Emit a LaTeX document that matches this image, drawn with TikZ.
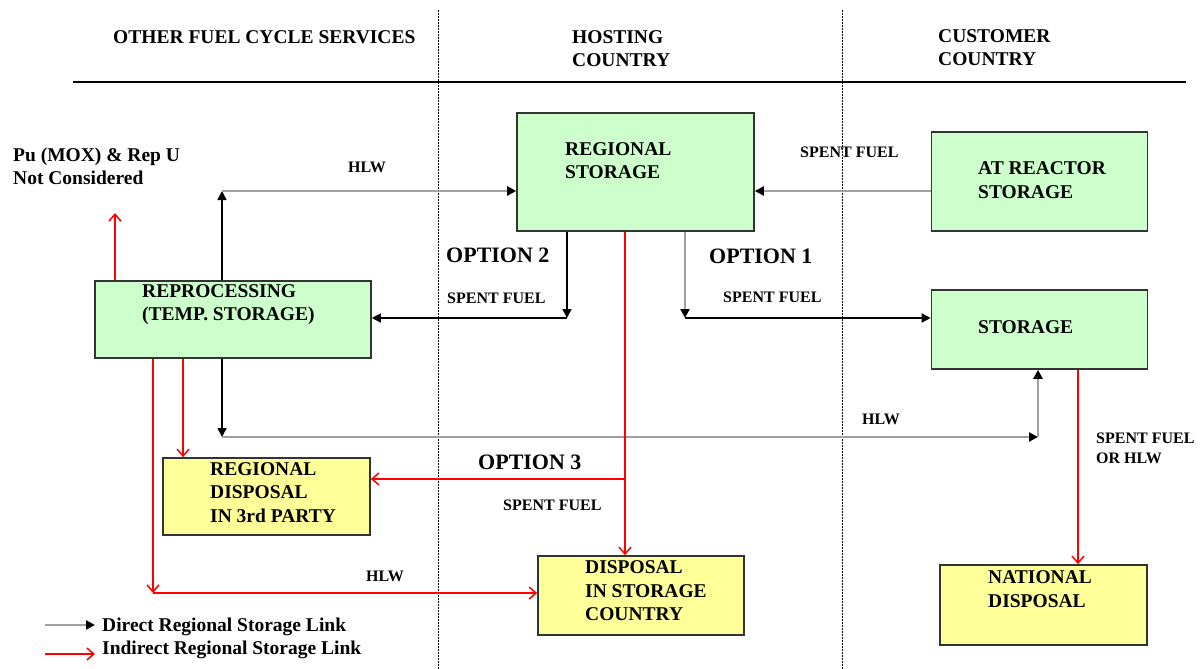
\documentclass[tikz,border=0pt]{standalone}
\usepackage{fontspec}
\setmainfont{Liberation Serif}
\usetikzlibrary{arrows.meta}
\definecolor{boxgreen}{RGB}{204,255,204}
\definecolor{boxyellow}{RGB}{255,255,153}
\definecolor{linkgrey}{RGB}{160,160,160}
\tikzset{
    greenbox/.style={
        rectangle,
        draw=black!80, % 深灰边框
        fill=boxgreen,
        line width=1.6pt,
        inner sep=0
    },
    yellowbox/.style={
        rectangle,
        draw=black!80,
        fill=boxyellow, % 处置设施用黄色
        line width=1.6pt,
        inner sep=0
    },
    boxtext/.style={
        anchor=west,
        align=left,
        inner sep=0,
        font=\bfseries\fontsize{19.5}{23.5}\selectfont
    },
    smalltext/.style={
        anchor=west,
        align=left,
        inner sep=0,
        font=\bfseries\fontsize{16}{19.5}\selectfont
    },
    optiontext/.style={
        anchor=west,
        inner sep=0,
        font=\bfseries\fontsize{22}{26}\selectfont
    },
    greylink/.style={
        draw=linkgrey,
        line width=2.4pt,
        -{Triangle[length=9pt,width=9pt,color=black]}
    },
    blacklink/.style={
        draw=black,
        line width=1.5pt,
        -{Triangle[length=9pt,width=9pt]}
    },
    redlink/.style={
        draw=red,
        line width=1.5pt,
        -{Straight Barb[length=7pt,width=12pt]}
    },
    divider/.style={
        line width=1pt,
        dash pattern=on 2pt off 1pt
    }
}

\begin{document}
\begin{tikzpicture}[x=1pt, y=-1pt]
    \useasboundingbox (0,0) rectangle (1203,669);

    % 表头与分栏线
    \draw[line width=1.6pt] (73,82) -- (1186,82);
    \draw[divider] (438,10) -- (438,669);
    \draw[divider] (842,10) -- (842,669);
    \node[boxtext] (h1) at (113,37) {OTHER FUEL CYCLE SERVICES};
    \node[boxtext] (h2) at (572,48.5) {HOSTING\\COUNTRY};
    \node[boxtext] (h3) at (938,47.5) {CUSTOMER\\COUNTRY};

    % 贮存设施
    \node[greenbox, minimum width=237pt, minimum height=118pt] (rs) at (635.5,172) {};
    \node[greenbox, minimum width=216pt, minimum height=99pt] (ar) at (1039.5,181.5) {};
    \node[greenbox, minimum width=216pt, minimum height=79pt] (st) at (1039.5,329.5) {};
    \node[greenbox, minimum width=276pt, minimum height=77pt] (rp) at (233,319.5) {};
    \node[boxtext] (rstxt) at (565,160.5) {REGIONAL\\STORAGE};
    \node[boxtext] (artxt) at (978,180) {AT REACTOR\\STORAGE};
    \node[boxtext] (sttxt) at (978,327) {STORAGE};
    \node[boxtext] (rptxt) at (142,304.5) {REPROCESSING\\(TEMP. STORAGE)};

    % 处置设施
    \node[yellowbox, minimum width=207pt, minimum height=77pt] (rd) at (266.5,496.5) {};
    \node[yellowbox, minimum width=206pt, minimum height=79pt] (dsc) at (641,595.5) {};
    \node[yellowbox, minimum width=207pt, minimum height=80pt] (nd) at (1043.5,605) {};
    \node[boxtext] (rdtxt) at (210,492.5) {REGIONAL\\DISPOSAL\\IN 3rd PARTY};
    \node[boxtext] (dsctxt) at (585,591) {DISPOSAL\\IN STORAGE\\COUNTRY};
    \node[boxtext] (ndtxt) at (988,589) {NATIONAL\\DISPOSAL};

    % 连接点
    \coordinate (j1) at (222,191);
    \coordinate (j2) at (222,437);
    \coordinate (j3) at (1038,437);
    \coordinate (o1) at (685,318);
    \coordinate (o2) at (567,318);
    \coordinate (o3) at (625,479);
    \coordinate (pu) at (115,213);
    \coordinate (r1) at (183,458);
    \coordinate (r2) at (153,593);
    \coordinate (r3) at (1078,369);

    % 直接链接
    \draw[blacklink] (j1 |- rp.north) -- (j1);
    \draw[greylink] (j1) -- (j1 -| rs.west);
    \draw[greylink] (j1 -| ar.west) -- (j1 -| rs.east);
    \draw[blacklink] (o2 |- rs.south) -- (o2);
    \draw[blacklink] (o2) -- (o2 -| rp.east);
    \draw[greylink] (o1 |- rs.south) -- (o1);
    \draw[blacklink] (o1) -- (o1 -| st.west);
    \draw[blacklink] (j2 |- rp.south) -- (j2);
    \draw[greylink] (j2) -- (j3);
    \draw[greylink] (j3) -- (j3 |- st.south);

    % 间接链接
    \draw[redlink] (pu |- rp.north) -- (pu);
    \draw[redlink] (r1 |- rp.south) -- (r1 |- rd.north);
    \draw[redlink] (r2 |- rp.south) -- (r2);
    \draw[redlink] (r2) -- (r2 -| dsc.west);
    \draw[redlink] (o3 |- rs.south) -- (o3 |- dsc.north);
    \draw[redlink] (o3) -- (o3 -| rd.east);
    \draw[redlink] (r3 |- st.south) -- (r3 |- nd.north);

    % 标注
    \node[boxtext] (putxt) at (13,166.5) {Pu (MOX) \& Rep U\\Not Considered};
    \node[smalltext] (hlw1) at (348,167) {HLW};
    \node[smalltext] (sf1) at (800,152) {SPENT FUEL};
    \node[optiontext] (opt2) at (446,255) {OPTION 2};
    \node[smalltext] (sf2) at (447,298) {SPENT FUEL};
    \node[optiontext] (opt1) at (709,256) {OPTION 1};
    \node[smalltext] (sf3) at (723,297) {SPENT FUEL};
    \node[smalltext] (hlw2) at (862,419) {HLW};
    \node[smalltext] (sf4) at (1096,448.5) {SPENT FUEL\\OR HLW};
    \node[optiontext] (opt3) at (478,462) {OPTION 3};
    \node[smalltext] (sf5) at (503,505) {SPENT FUEL};
    \node[smalltext] (hlw3) at (366,576) {HLW};

    % 图例
    \coordinate (lg1) at (45,625);
    \coordinate (lg2) at (45,654);
    \draw[greylink] (lg1) -- ++(50,0);
    \draw[redlink] (lg2) -- ++(50,0);
    \node[boxtext] (lgtxt1) at (102,627) {Direct Regional Storage Link};
    \node[boxtext] (lgtxt2) at (102,650) {Indirect Regional Storage Link};
\end{tikzpicture}
\end{document}
